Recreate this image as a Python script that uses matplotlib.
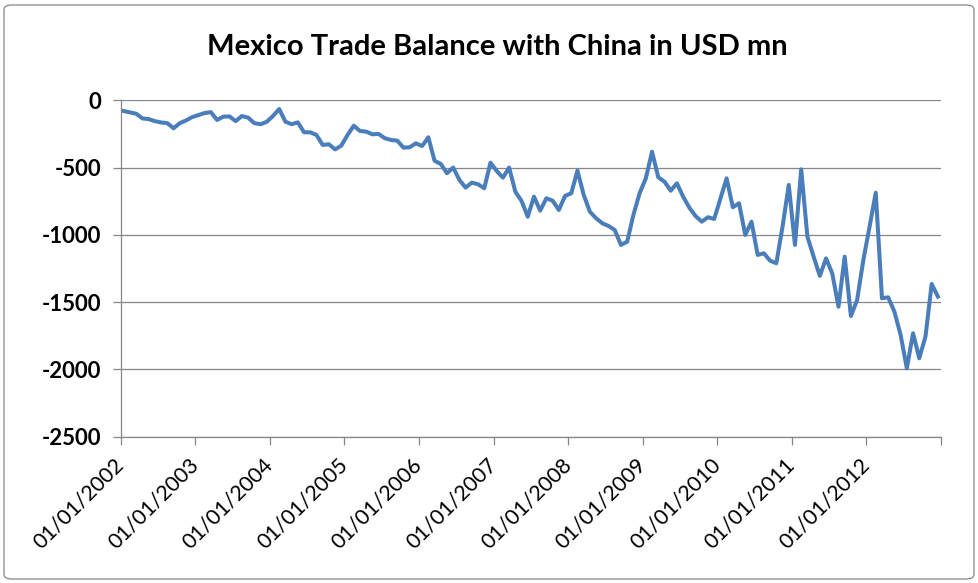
import numpy as np
import matplotlib
matplotlib.use("Agg")
import matplotlib.pyplot as plt
from matplotlib.patches import FancyBboxPatch
from matplotlib.transforms import ScaledTranslation

plt.rcParams['font.family'] = ['Lato', 'DejaVu Sans']
plt.rcParams['axes.unicode_minus'] = False

# saldo commerciale mensile Messico-Cina (USD mn), gen 2002 - dic 2012
saldo = [
    -80, -90, -100, -135, -140, -155, -165, -170, -208, -170, -150, -125,
    -110, -95, -88, -146, -122, -120, -155, -117, -129, -170, -178, -160,
    -117, -65, -159, -178, -164, -238, -238, -258, -332, -327, -365, -337,
    -258, -189, -228, -233, -253, -250, -282, -295, -300, -352, -349, -320,
    -340, -275, -449, -473, -542, -500, -592, -649, -612, -624, -654, -464,
    -525, -575, -500, -679, -748, -865, -716, -820, -728, -746, -815, -711,
    -691, -523, -703, -828, -877, -914, -934, -964, -1075, -1051, -852, -691,
    -580, -382, -572, -605, -672, -617, -716, -798, -860, -902, -869, -882,
    -730, -580, -795, -765, -1001, -902, -1149, -1137, -1192, -1211, -939, -629,
    -1075, -513, -1013, -1162, -1305, -1175, -1286, -1534, -1162, -1603, -1484, -1187,
    -940, -687, -1471, -1464, -1571, -1744, -1991, -1731, -1917, -1756, -1365, -1459,
]
anni = list(range(2002, 2013))
etichette = ["01/01/%d" % a for a in anni]
y_ticks = [0, -500, -1000, -1500, -2000, -2500]

grigio = "#868686"
blu = "#4a7ebb"

fig = plt.figure(figsize=(9.79, 5.83), dpi=100)

# cornice esterna del grafico
cornice = FancyBboxPatch((4 / 979, 4 / 583), 1 - 9 / 979, 1 - 9 / 583,
                         boxstyle="round,pad=0,rounding_size=0.008",
                         transform=fig.transFigure, facecolor="none",
                         edgecolor=grigio, linewidth=0.9, zorder=-1)
fig.patches.append(cornice)

ax = fig.add_axes([0.1233, 0.2509, 0.8379, 0.5771])
ax.patch.set_alpha(0)

# punti centrati nel mese
mesi = np.arange(len(saldo)) + 0.5
ax.plot(mesi, saldo, color=blu, linewidth=2.9, solid_joinstyle="round")

ax.set_xlim(0, 132)
ax.set_ylim(-2500, 0)
ax.set_yticks(y_ticks)
ax.set_yticklabels([str(v) for v in y_ticks], fontsize=16, fontweight="bold")

tick_x = np.arange(0, 133, 12)
ax.set_xticks(tick_x)
ax.set_xticklabels(etichette + [""], fontsize=15.5, rotation=45, ha="right",
                   va="center", rotation_mode="anchor")
# etichette spostate un po' a destra rispetto al tick
sposta = ScaledTranslation(0.09, 0, fig.dpi_scale_trans)
for lab in ax.get_xticklabels():
    lab.set_transform(lab.get_transform() + sposta)

ax.grid(axis="y", color=grigio, linewidth=0.9)
ax.set_axisbelow(True)
for lato in ["top", "right"]:
    ax.spines[lato].set_visible(False)
for lato in ["left", "bottom"]:
    ax.spines[lato].set_color(grigio)
    ax.spines[lato].set_linewidth(0.9)
ax.tick_params(axis="y", length=6, width=0.9, color=grigio, pad=8)
ax.tick_params(axis="x", length=6, width=0.9, color=grigio, pad=12)

fig.text(0.508, 0.919, "Mexico Trade Balance with China in USD mn",
         ha="center", va="center", fontsize=21, fontweight="bold")

fig.savefig("out.png", dpi=100)
